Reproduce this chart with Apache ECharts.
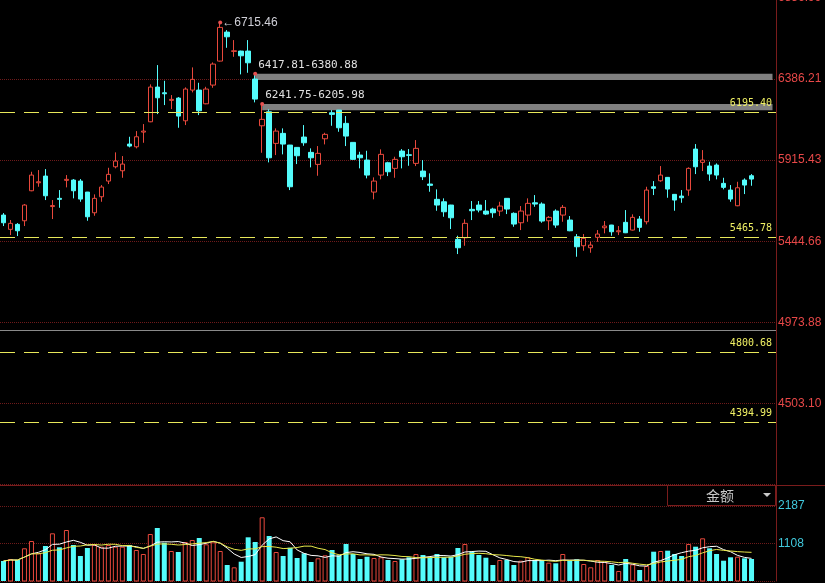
<!DOCTYPE html>
<html>
<head>
<meta charset="utf-8">
<script src="https://cdn.jsdelivr.net/npm/echarts@6/dist/echarts.min.js"></script>
<style>
html,body{margin:0;padding:0;background:#000;}
#chart{width:825px;height:583px;}
</style>
</head>
<body>
<div id="chart"></div>
<script>
const open = [5596.7,5513.7,5542.7,5563.6,5737.8,5784.2,5823.1,5646.1,5693.7,5798.2,
5799.9,5794.1,5730.2,5610.1,5703.0,5794.1,5877.1,5853.9,6008.9,5993.2,
6078.5,6138.3,6339.8,6306.7,6262.6,6275.9,6144.1,6322.3,6322.3,6242.8,
6351.4,6490.7,6659.0,6547.0,6548.8,6548.8,6386.2,6115.1,6196.4,6012.9,
6071.0,6003.1,5989.7,6049.5,5960.7,5891.0,6039.6,6190.6,6206.2,6129.0,
6018.7,5945.0,5916.0,5730.2,5828.9,5900.3,5867.8,5968.2,5946.8,5896.8,
5852.1,5776.7,5687.9,5673.9,5654.8,5455.7,5464.9,5629.8,5654.8,5619.9,
5631.6,5619.9,5693.7,5606.6,5552.0,5596.7,5668.1,5660.6,5563.6,5619.9,
5596.7,5567.7,5470.8,5418.5,5406.9,5467.3,5523.0,5538.7,5499.8,5554.4,
5509.6,5573.5,5557.8,5761.0,5795.8,5815.6,5716.9,5707.0,5741.8,5979.8,
5902.6,5881.2,5887.0,5780.7,5741.8,5650.7,5799.9,5824.9];
const close = [5552.0,5548.6,5505.6,5654.8,5828.9,5790.0,5708.8,5651.9,5687.9,5804.0,
5737.8,5689.6,5586.9,5693.7,5759.3,5833.0,5910.2,5892.8,5997.3,6051.3,
6084.3,6339.8,6277.6,6300.9,6268.4,6171.4,6328.2,6384.5,6202.2,6328.2,
6473.3,6686.3,6631.8,6550.5,6521.5,6480.8,6270.1,6152.3,5929.3,6084.3,
6008.9,5761.0,5941.0,6016.4,5929.3,5954.9,6065.2,6181.3,6103.5,6055.3,
5920.1,5929.3,5828.9,5794.1,5949.1,5848.1,5920.1,5935.2,5943.3,5983.9,
5819.1,5769.1,5654.8,5615.9,5581.0,5406.9,5548.6,5621.7,5625.7,5602.5,
5610.1,5649.0,5631.6,5544.5,5619.9,5664.6,5660.6,5561.9,5583.4,5538.7,
5641.4,5505.6,5412.7,5461.5,5422.6,5486.4,5532.9,5499.8,5505.6,5494.0,
5583.4,5525.3,5741.8,5751.7,5828.9,5747.7,5683.8,5697.2,5867.8,5877.1,
5916.0,5834.7,5828.9,5757.5,5689.6,5755.2,5770.9,5805.7];
const low = [5532.9,5480.6,5474.8,5532.9,5735.0,5761.0,5683.8,5573.5,5639.1,5757.5,
5693.7,5673.9,5563.6,5592.7,5673.9,5776.7,5867.8,5813.2,5989.7,5983.9,
6016.4,6136.0,6183.0,6235.3,6212.1,6103.5,6119.2,6309.0,6177.2,6240.0,
6335.7,6488.0,6567.9,6515.7,6413.5,6422.8,6250.9,5958.4,5902.6,5945.0,
5949.1,5741.8,5892.8,5999.0,5873.6,5824.9,6007.1,6115.1,6080.3,5997.3,
5918.0,5867.8,5809.8,5687.9,5804.0,5823.1,5813.2,5867.8,5882.9,5881.2,
5799.9,5732.0,5621.7,5586.9,5515.5,5370.3,5418.5,5567.7,5612.4,5596.7,
5581.0,5590.9,5602.5,5528.8,5509.6,5557.8,5644.9,5552.0,5509.6,5523.0,
5557.8,5503.0,5354.7,5389.5,5377.9,5441.7,5490.5,5476.6,5480.6,5492.0,
5507.0,5499.8,5542.7,5712.8,5790.0,5697.2,5621.7,5668.1,5708.8,5834.7,
5852.1,5795.8,5804.0,5745.9,5673.9,5648.0,5718.6,5766.8];
const high = [5608.3,5567.7,5550.3,5660.6,5848.1,5857.9,5863.8,5683.8,5741.8,5828.9,
5805.7,5805.7,5731.0,5716.9,5770.9,5871.3,5960.7,5939.2,6051.3,6084.3,
6125.0,6355.4,6467.5,6376.3,6293.3,6281.7,6338.0,6454.1,6364.7,6341.5,
6483.1,6715.46,6670.6,6612.6,6551.0,6612.6,6417.81,6241.75,6210.3,6100.0,
6100.0,6004.0,5991.0,6119.2,5983.9,5997.3,6074.5,6206.2,6207.0,6171.4,
6019.0,5964.2,5970.0,5815.6,5978.1,5906.0,5935.2,5979.8,5979.8,6032.1,
5916.0,5838.8,5745.9,5693.7,5656.0,5476.6,5571.8,5678.0,5678.0,5683.8,
5639.1,5673.9,5695.0,5612.4,5649.0,5693.7,5712.8,5670.4,5590.9,5629.8,
5654.8,5590.9,5486.4,5486.4,5441.7,5509.6,5561.9,5540.0,5532.9,5625.7,
5600.8,5590.9,5761.0,5794.1,5881.2,5817.0,5718.0,5741.8,5873.6,6008.9,
5974.0,5906.1,5896.8,5813.2,5770.9,5790.0,5809.8,5834.7];
const volume = [604,662,633,970,1180,826,1036,1401,999,1496,
1065,748,978,1065,1016,1065,1016,1016,1065,921,
806,1381,1554,1131,892,863,1151,1209,1266,1085,
1142,892,489,423,584,1286,1151,1862,1324,863,
748,987,691,826,576,682,768,921,768,1093,
806,662,728,691,711,633,604,653,711,806,
777,711,806,711,728,978,1093,872,777,699,
489,633,633,489,613,711,633,633,556,538,
806,613,653,518,423,633,584,489,317,662,
509,345,461,872,892,901,806,748,1093,1016,
1257,970,806,613,711,728,682,662];
const priceTicks = [4503.10, 4973.88, 5444.66, 5915.43, 6386.21, 6856.99];
const volTicks = [1108, 2187];
const levelLines = [6195.40, 5465.78, 4800.68, 4394.99];
const gaps = [
  {start: 36, top: 6417.81, bottom: 6380.88},
  {start: 37, top: 6241.75, bottom: 6205.98}
];
const maxPoint = {index: 31, value: 6715.46};
const dividerLevel = 4929;
const padCategories = ['p1', 'p2', 'p3'];

const categories = open.map((_, i) => 'D' + (i + 1)).concat(padCategories);
const lastIdx = categories.length - 1;

const priceInterval = (priceTicks[priceTicks.length - 1] - priceTicks[0]) / (priceTicks.length - 1);
const priceMin = priceTicks[0] - priceInterval;
const priceMax = priceTicks[priceTicks.length - 1];
const volInterval = volTicks[1] - volTicks[0];
const volMin = volTicks[0] - volInterval;
const volMax = volMin + 96 * (volInterval / 37.5);

const RED = '#e8483c';
const CYAN = '#54fcfc';
const DARKRED = '#7a1c1c';
const YELLOW = '#e8e85a';

function ma(arr, n) {
  return arr.map((_, i) => {
    const s = arr.slice(Math.max(0, i - n + 1), i + 1);
    return +(s.reduce((a, b) => a + b, 0) / s.length).toFixed(1);
  });
}

const candleData = open.map((o, i) => [o, close[i], low[i], high[i]]);
const volData = volume.map((v, i) => ({
  value: v,
  itemStyle: close[i] >= open[i]
    ? {color: '#000', borderColor: RED, borderWidth: 1}
    : {color: CYAN, borderColor: CYAN, borderWidth: 0}
}));

const chart = echarts.init(document.getElementById('chart'), null, {renderer: 'canvas'});
chart.setOption({
  backgroundColor: '#000',
  animation: false,
  grid: [
    {left: 0, right: 49, top: -2, height: 486.5, containLabel: false, outerBoundsMode: 'none'},
    {left: 0, right: 49, top: 485, height: 96, containLabel: false, outerBoundsMode: 'none'}
  ],
  xAxis: [
    {type: 'category', data: categories, gridIndex: 0, boundaryGap: true,
     axisLine: {show: false}, axisTick: {show: false}, axisLabel: {show: false}, splitLine: {show: false}},
    {type: 'category', data: categories, gridIndex: 1, boundaryGap: true,
     axisLine: {show: false}, axisTick: {show: false}, axisLabel: {show: false}, splitLine: {show: false}}
  ],
  yAxis: [
    {type: 'value', gridIndex: 0, position: 'right', min: priceMin, max: priceMax, interval: priceInterval,
     axisLine: {show: true, lineStyle: {color: DARKRED}}, axisTick: {show: false},
     axisLabel: {color: '#e84848', fontSize: 12, fontFamily: 'Liberation Sans', margin: 2, showMinLabel: false,
       formatter: v => v.toFixed(2)},
     splitLine: {show: true, lineStyle: {color: '#6e1a1a', type: 'dotted'}}},
    {type: 'value', gridIndex: 1, position: 'right', min: volMin, max: volMax, interval: volInterval,
     axisLine: {show: true, lineStyle: {color: DARKRED}}, axisTick: {show: false},
     axisLabel: {color: '#40c8dc', fontSize: 12, fontFamily: 'Liberation Sans', margin: 2,
       showMinLabel: false, showMaxLabel: false, formatter: v => String(Math.round(v))},
     splitLine: {show: true, lineStyle: {color: '#6e1a1a', type: 'dotted'}}}
  ],
  series: [
    {
      type: 'candlestick', xAxisIndex: 0, yAxisIndex: 0, data: candleData, barWidth: 5,
      itemStyle: {color: '#000', color0: CYAN, borderColor: RED, borderColor0: CYAN, borderWidth: 1},
      markLine: {
        silent: true, symbol: ['none', 'none'], animation: false,
        lineStyle: {color: YELLOW, type: [15, 9], width: 1},
        label: {show: true, position: 'insideEndTop', color: '#f0f064', fontSize: 10,
          fontFamily: 'DejaVu Sans Mono', distance: 4, formatter: p => p.value.toFixed(2)},
        data: levelLines.map(v => ({yAxis: v, lineStyle: {color: YELLOW, type: [15, 9], width: 1, opacity: 1}})).concat([
          {yAxis: dividerLevel, lineStyle: {type: 'solid', color: '#8a8a8a', width: 1}, label: {show: false}}
        ])
      },
      markArea: {
        silent: true,
        itemStyle: {color: '#808080', opacity: 1},
        label: {show: true, position: [3, -14], color: '#e0e0e0', fontSize: 11, fontFamily: 'DejaVu Sans Mono'},
        data: gaps.map(g => [
          {coord: [g.start, g.top], name: g.top.toFixed(2) + '-' + g.bottom.toFixed(2)},
          {coord: [lastIdx, g.bottom]}
        ])
      },
      markPoint: {
        silent: true, symbol: 'circle', symbolSize: 4,
        itemStyle: {color: '#e85050'},
        label: {show: false},
        data: [
          {coord: [maxPoint.index, maxPoint.value],
           label: {show: true, position: 'right', distance: 0, color: '#d0d0d8', fontSize: 12,
             fontFamily: 'Liberation Sans', formatter: '←' + maxPoint.value.toFixed(2)}},
          {coord: [gaps[0].start, gaps[0].top]},
          {coord: [gaps[1].start, gaps[1].top]}
        ]
      }
    },
    {type: 'bar', xAxisIndex: 1, yAxisIndex: 1, data: volData, barWidth: 5},
    {type: 'line', xAxisIndex: 1, yAxisIndex: 1, data: ma(volume, 5), symbol: 'none',
     lineStyle: {color: '#ffffff', width: 1}},
    {type: 'line', xAxisIndex: 1, yAxisIndex: 1, data: ma(volume, 10), symbol: 'none',
     lineStyle: {color: '#e8e84a', width: 1}}
  ],
  graphic: [
    {type: 'line', shape: {x1: 0, y1: 485.5, x2: 825, y2: 485.5}, style: {stroke: DARKRED, lineWidth: 1}, z: 100},
    {type: 'rect', shape: {x: 667.5, y: 485.5, width: 108, height: 20}, style: {fill: 'none', stroke: DARKRED, lineWidth: 1}, z: 100},
    {type: 'text', x: 720, y: 496, style: {text: '金额', fill: '#c8c8c8', font: '14px "Noto Sans CJK SC"', align: 'center', verticalAlign: 'middle'}, z: 100},
    {type: 'polygon', shape: {points: [[763, 493], [771, 493], [767, 497]]}, style: {fill: '#c8c8c8'}, z: 100}
  ]
});
</script>
</body>
</html>
